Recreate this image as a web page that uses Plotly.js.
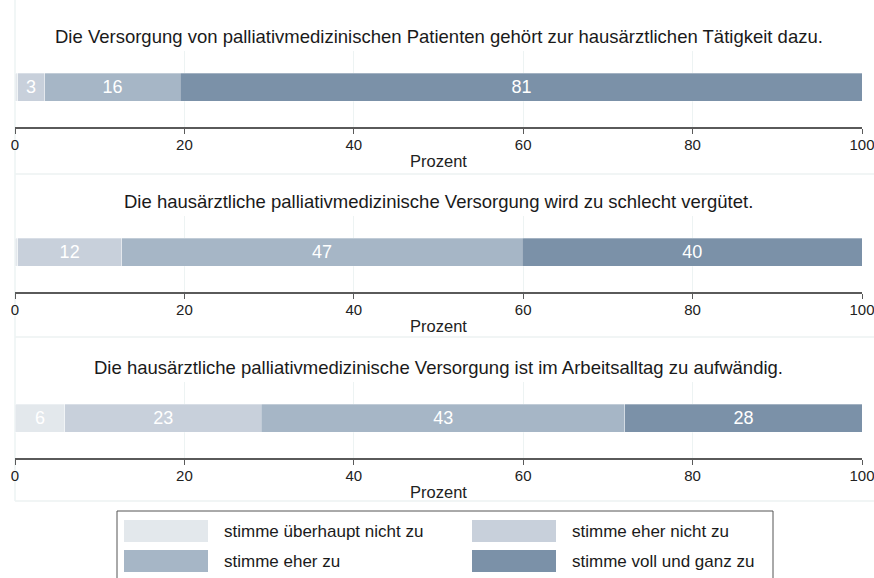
<!DOCTYPE html>
<html>
<head>
<meta charset="utf-8">
<script src="https://cdn.plot.ly/plotly-3.0.1.min.js"></script>
<style>html,body{margin:0;padding:0;background:#fff;}#chart{width:874px;height:578px;}</style>
</head>
<body>
<div id="chart"></div>
<script>
// ---- data ----
const statements = [
  "Die Versorgung von palliativmedizinischen Patienten gehört zur hausärztlichen Tätigkeit dazu.",
  "Die hausärztliche palliativmedizinische Versorgung wird zu schlecht vergütet.",
  "Die hausärztliche palliativmedizinische Versorgung ist im Arbeitsalltag zu aufwändig."
];
const categories = ["stimme überhaupt nicht zu", "stimme eher nicht zu", "stimme eher zu", "stimme voll und ganz zu"];
const ueberhauptNicht = [0.3, 0.3, 5.9];
const eherNicht = [3.2, 12.3, 23.2];
const eherZu = [16.0, 47.3, 42.9];
const vollUndGanz = [80.6, 40.1, 28.0];
const xTicks = [0, 20, 40, 60, 80, 100];
const xTitle = "Prozent";
const colors = ["#e3e8ec", "#c8d0db", "#a6b6c6", "#7b91a8"];

const series = [ueberhauptNicht, eherNicht, eherZu, vollUndGanz];

// ---- layout helpers (pixel -> paper) ----
const W = 874, H = 578, ML = 15, MR = 12;
const PW = W - ML - MR;
const px = p => (p - ML) / PW;
const py = p => 1 - p / H;

const panelBottoms = [127, 292, 458];
const panelHeight = 76;
const titleY = [37, 201, 367];
const sepY = [174, 337, 501];

const traces = [];
statements.forEach((s, i) => {
  const ax = i === 0 ? "" : String(i + 1);
  series.forEach((vals, c) => {
    traces.push({
      type: "bar",
      orientation: "h",
      x: [vals[i]],
      y: [0],
      width: 1,
      xaxis: "x" + ax,
      yaxis: "y" + ax,
      name: categories[c],
      marker: { color: colors[c], line: { color: "rgba(255,255,255,0.5)", width: 0.6 } },
      text: [String(Math.round(vals[i]))],
      textposition: "inside",
      insidetextanchor: "middle",
      textfont: { family: "Liberation Sans, Arial, sans-serif", size: 18, color: "#ffffff" },
      hoverinfo: "x+name",
      showlegend: false
    });
  });
});

const layout = {
  width: W, height: H,
  margin: { l: ML, r: MR, t: 0, b: 0 },
  paper_bgcolor: "#ffffff",
  plot_bgcolor: "#ffffff",
  barmode: "stack",
  showlegend: false,
  uniformtext: { mode: "hide", minsize: 14 },
  font: { family: "Liberation Sans, Arial, sans-serif", color: "#222" },
  annotations: [],
  shapes: []
};

statements.forEach((s, i) => {
  const ax = i === 0 ? "" : String(i + 1);
  const yb = panelBottoms[i];
  layout["xaxis" + ax] = {
    anchor: "y" + ax,
    domain: [0, 1],
    range: [0, 100],
    tickvals: xTicks,
    ticktext: xTicks.map(String),
    ticks: "outside", ticklen: 5, tickwidth: 1, tickcolor: "#5a5a5a",
    ticklabelstandoff: -2,
    ticklabeloverflow: "allow",
    showline: true, linecolor: "#5a5a5a", linewidth: 1.5,
    showgrid: true, gridcolor: "#edf3f3", gridwidth: 1,
    zeroline: false,
    tickfont: { family: "Liberation Sans, Arial, sans-serif", size: 15, color: "#222" },
    title: { text: xTitle, standoff: 4, font: { size: 16.5, color: "#222" } },
    automargin: false,
    fixedrange: true
  };
  layout["yaxis" + ax] = {
    anchor: "x" + ax,
    domain: [py(yb), py(yb - panelHeight)],
    range: [-40 / 28, 36 / 28],
    showticklabels: false, showgrid: false, zeroline: false, showline: false,
    fixedrange: true
  };
  layout.annotations.push({
    xref: "paper", yref: "paper", x: 0.5, y: py(titleY[i]),
    xanchor: "center", yanchor: "middle", showarrow: false,
    text: s, font: { size: 18.5, color: "#1a1a1a" }
  });
  layout.shapes.push({
    type: "line", xref: "paper", yref: "paper",
    x0: 0, x1: px(W), y0: py(sepY[i]), y1: py(sepY[i]),
    line: { color: "#edf2f2", width: 1.5 }, layer: "below"
  });
});

// left faint frame line
layout.shapes.push({
  type: "line", xref: "paper", yref: "paper",
  x0: 0, x1: 0, y0: py(sepY[2]), y1: 1,
  line: { color: "#edf3f3", width: 1.5 }, layer: "below"
});

// custom legend (2 x 2)
layout.shapes.push({
  type: "rect", xref: "paper", yref: "paper",
  x0: px(117), x1: px(773), y0: py(600), y1: py(511),
  line: { color: "#555555", width: 1 }, fillcolor: "rgba(0,0,0,0)"
});
const legCols = [124, 472];
const legRows = [531, 561];
categories.forEach((c, k) => {
  const col = k % 2, row = Math.floor(k / 2);
  const x0 = legCols[col], yc = legRows[row];
  layout.shapes.push({
    type: "rect", xref: "paper", yref: "paper",
    x0: px(x0), x1: px(x0 + 84), y0: py(yc + 11), y1: py(yc - 11),
    line: { width: 0 }, fillcolor: colors[k]
  });
  layout.annotations.push({
    xref: "paper", yref: "paper", x: px(x0 + 98), y: py(yc),
    xanchor: "left", yanchor: "middle", showarrow: false,
    text: c, font: { family: "Liberation Sans, Arial, sans-serif", size: 17, color: "#1a1a1a" }
  });
});

Plotly.newPlot("chart", traces, layout, { displayModeBar: false, staticPlot: true });
</script>
</body>
</html>
